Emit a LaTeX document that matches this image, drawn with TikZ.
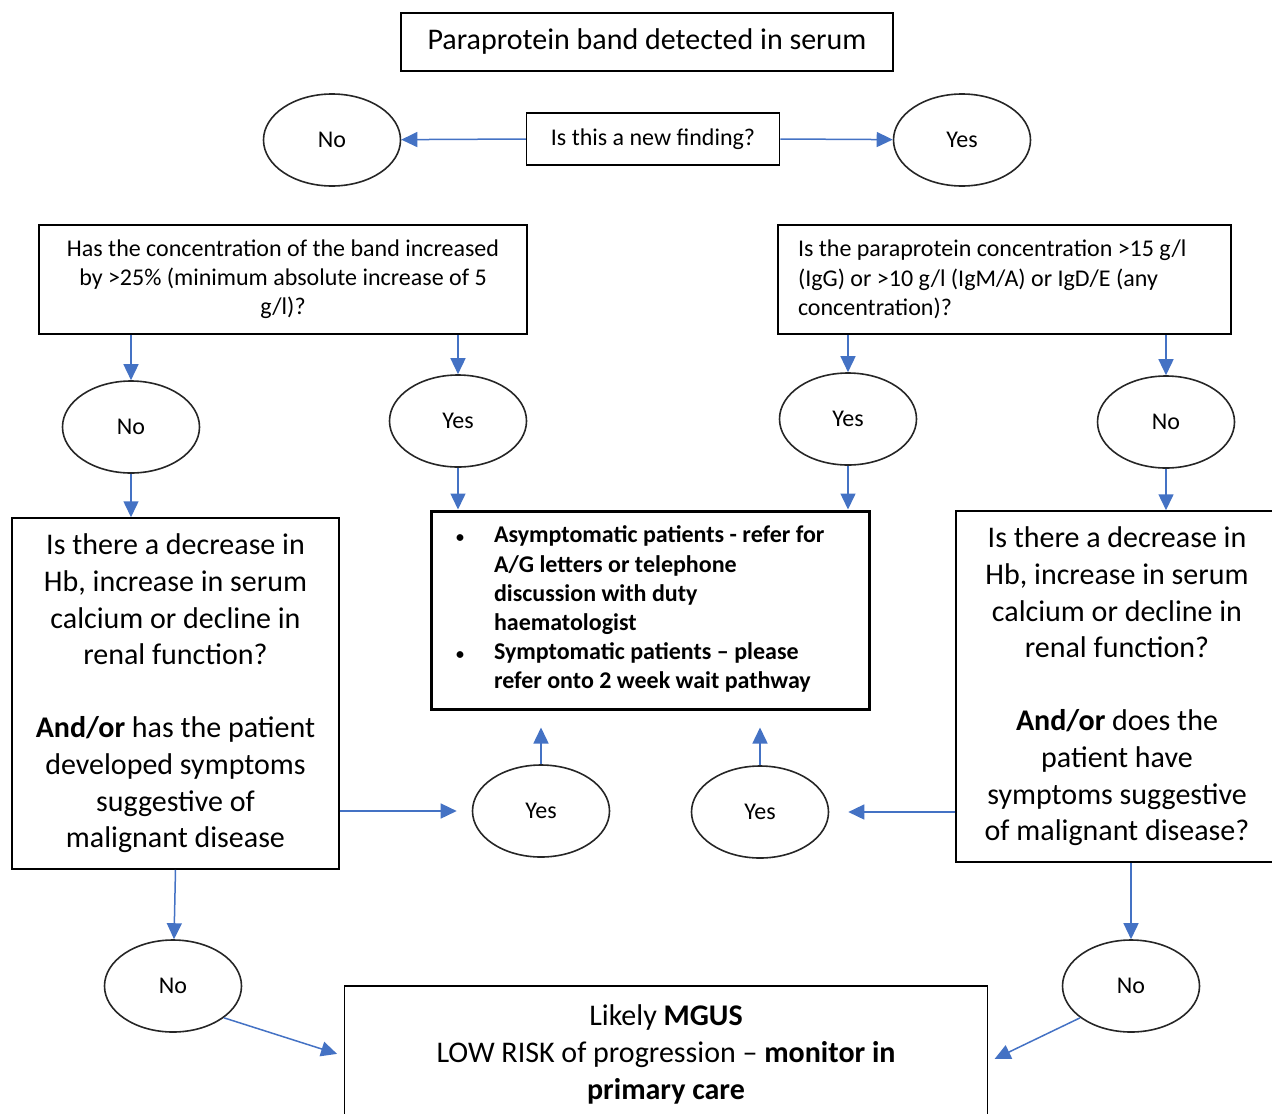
\documentclass[tikz,border=0pt]{standalone}
\usepackage{fontspec}
\setmainfont{Carlito}
\usetikzlibrary{shapes.geometric,arrows.meta}
\definecolor{linkblue}{HTML}{4472C4}
\newcommand{\smallbullet}{{\fontsize{8}{8}\selectfont\textbullet}}

\begin{document}
\begin{tikzpicture}[x=0.5pt,y=-0.5pt,
		box/.style={draw=black, line width=0.75pt, inner sep=0pt, align=center, font=\fontsize{12}{14.6}\selectfont},
		bigbox/.style={box, font=\fontsize{15}{18.3}\selectfont},
		answer/.style={draw=black!85, line width=0.8pt, ellipse, inner sep=0pt, minimum width=68.5pt, minimum height=46pt, font=\fontsize{12}{14.6}\selectfont},
		link/.style={draw=linkblue, line width=0.75pt, -{Triangle[length=8pt,width=7.5pt]}},
	]
	\useasboundingbox (0,0) rectangle (1272,1113);
	% Questions and answers
	\node (start) [bigbox, minimum width=246pt, minimum height=29pt] at (647,42) {Paraprotein band detected in serum};
	\node (new) [box, minimum width=126.5pt, minimum height=26pt] at (653,139) {Is this a new finding?};
	\node (newno) [answer] at (332,140) {No};
	\node (newyes) [answer] at (962,140) {Yes};
	\node (incr) [box, minimum width=244pt, minimum height=54.5pt] at (283,279.5) {Has the concentration of the band increased\\ by >25\% (minimum absolute increase of 5\\ g/l)?};
	\node (conc) [box, align=flush left, text width=206.5pt, minimum width=226.5pt, minimum height=54.5pt] at (1004.5,279.5) {Is the paraprotein concentration >15 g/l\\ (IgG) or >10 g/l (IgM/A) or IgD/E (any\\ concentration)?};
	\node (incrno) [answer] at (131,427) {No};
	\node (incryes) [answer] at (458,421) {Yes};
	\node (concyes) [answer] at (848,419) {Yes};
	\node (concno) [answer] at (1166,422) {No};
	\node (leftq) [bigbox, minimum width=163.5pt, minimum height=175.5pt] at (175.5,693.5) {Is there a decrease in\\ Hb, increase in serum\\ calcium or decline in\\ renal function?\\[18.3pt] \textbf{And/or} has the patient\\ developed symptoms\\ suggestive of\\ malignant disease};
	\node (rightq) [bigbox, minimum width=161pt, minimum height=175.5pt] at (1117,686.5) {Is there a decrease in\\ Hb, increase in serum\\ calcium or decline in\\ renal function?\\[18.3pt] \textbf{And/or} does the\\ patient have\\ symptoms suggestive\\ of malignant disease?};
	\node (refer) [box, line width=1.5pt, minimum width=219pt, minimum height=99pt, font=\fontsize{12}{14.6}\selectfont\bfseries] at (650,610) {%
		\begin{tabular}{@{}p{19pt}@{}p{175pt}@{}}
			\smallbullet & Asymptomatic patients - refer for\newline A/G letters or telephone\newline discussion with duty\newline haematologist\\
			\smallbullet & Symptomatic patients -- please\newline refer onto 2 week wait pathway
		\end{tabular}};
	\node (yesl) [answer] at (541,811) {Yes};
	\node (yesr) [answer] at (760,812) {Yes};
	\node (nol) [answer] at (173,986) {No};
	\node (nor) [answer] at (1131,986) {No};
	\node (mgus) [box, minimum width=321.5pt, minimum height=68pt, font=\fontsize{15}{18.5}\selectfont] at (666,1054) {Likely \textbf{MGUS}\\ LOW RISK of progression -- \textbf{monitor in}\\ \textbf{primary care}};
	% Arrows
	\draw[link] (new.west) -- (newno);
	\draw[link] (new.east) -- (newyes);
	\draw[link] (incr.south -| incrno) -- (incrno);
	\draw[link] (incr.south -| incryes) -- (incryes);
	\draw[link] (conc.south -| concyes) -- (concyes);
	\draw[link] (conc.south -| concno) -- (concno);
	\draw[link] (incrno) -- (incrno |- leftq.north);
	\draw[link] (incryes) -- (incryes |- refer.north);
	\draw[link] (concyes) -- (concyes |- refer.north);
	\draw[link] (concno) -- (concno |- rightq.north);
	\draw[link, shorten >=7.5pt] (leftq.east |- yesl) -- (yesl);
	\draw[link, shorten >=8.5pt] (yesl) -- (yesl |- refer.south);
	\draw[link, shorten >=8.5pt] (yesr) -- (yesr |- refer.south);
	\draw[link, shorten >=9.5pt] (rightq.west |- yesr) -- (yesr);
	\draw[link] (leftq.south) -- (nol);
	\draw[link] (rightq.south -| nor) -- (nor);
	\draw[link, shorten >=3.5pt] (nol.-32) -- ([yshift=-1pt]mgus.west);
	\draw[link, shorten >=3.5pt] (nor.-148) -- ([yshift=-4pt]mgus.east);
\end{tikzpicture}
\end{document}
